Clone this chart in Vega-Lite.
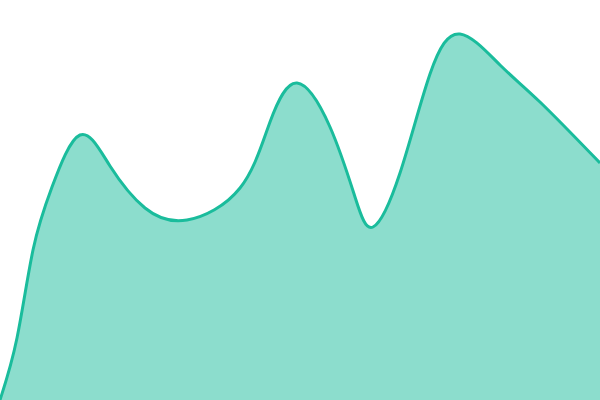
{
  "$schema": "https://vega.github.io/schema/vega-lite/v6.json",
  "autosize": "none",
  "width": 600,
  "height": 400,
  "padding": 0,
  "background": "white",
  "config": {"view": {"stroke": null}},
  "data": {
    "values": [
      {"t": 0, "v": 0},
      {"t": 17, "v": 62},
      {"t": 33, "v": 150},
      {"t": 52, "v": 213},
      {"t": 80, "v": 265},
      {"t": 110, "v": 234},
      {"t": 145, "v": 192},
      {"t": 187, "v": 180},
      {"t": 240, "v": 212},
      {"t": 270, "v": 278},
      {"t": 297, "v": 317},
      {"t": 330, "v": 273},
      {"t": 355, "v": 203},
      {"t": 373, "v": 173},
      {"t": 400, "v": 227},
      {"t": 430, "v": 326},
      {"t": 460, "v": 366},
      {"t": 500, "v": 335},
      {"t": 540, "v": 298},
      {"t": 600, "v": 237}
    ]
  },
  "mark": {
    "type": "area",
    "interpolate": "natural",
    "color": "#1abc9c",
    "fillOpacity": 0.5,
    "line": {"color": "#1abc9c", "strokeWidth": 3}
  },
  "encoding": {
    "x": {"field": "t", "type": "quantitative", "scale": {"domain": [0, 600], "nice": false, "zero": false}, "axis": null},
    "y": {"field": "v", "type": "quantitative", "scale": {"domain": [0, 400], "nice": false}, "axis": null}
  }
}
